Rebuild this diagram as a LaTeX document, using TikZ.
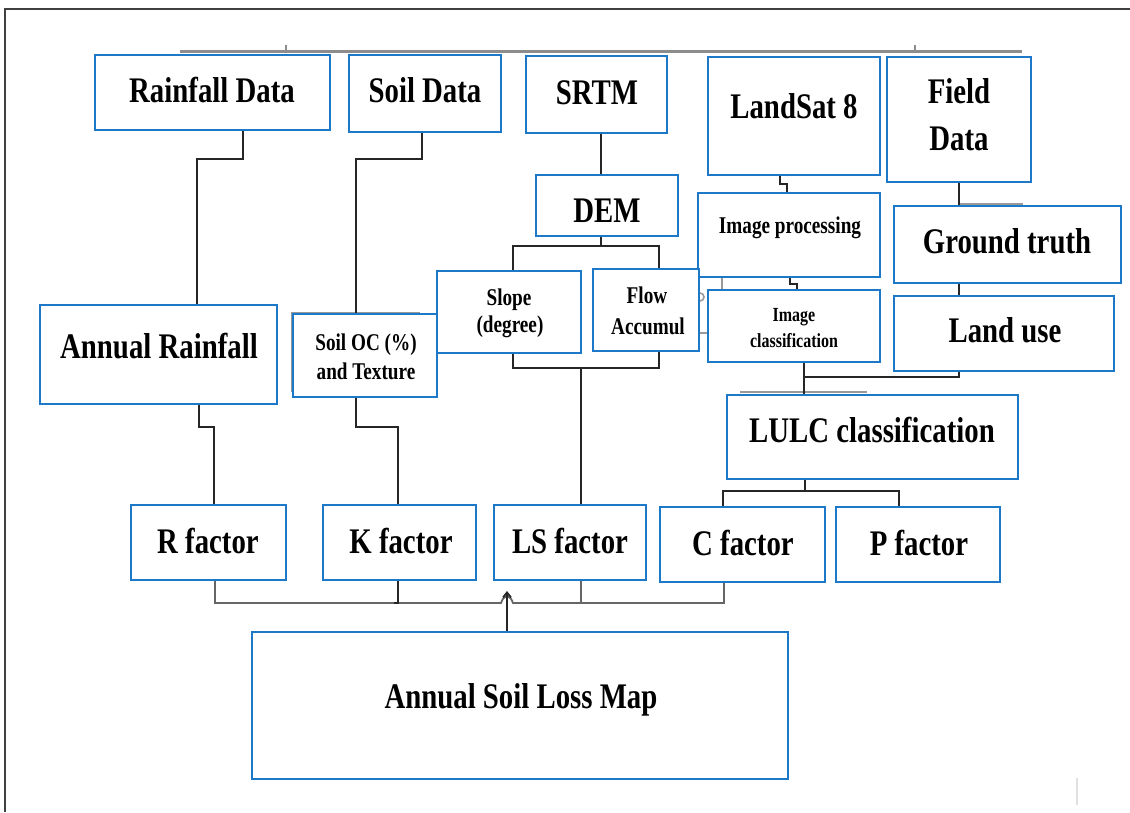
\documentclass[tikz,border=0pt]{standalone}
\usepackage{fontspec}
\setmainfont{Liberation Serif}[FakeStretch=0.8]
\usetikzlibrary{arrows.meta}
\definecolor{boxblue}{RGB}{30,120,200}
\begin{document}
\begin{tikzpicture}[x=1pt,y=-1pt,
  box/.style={draw=boxblue, line width=2.4pt, fill=white, inner sep=0pt},
  conn/.style={line width=1.8pt, black!85},
  bus/.style={line width=1.8pt, black!60},
  ghost/.style={line width=1.6pt, black!40},
  big/.style={font=\bfseries\fontsize{36}{40}\selectfont, inner sep=0pt, anchor=base},
  mid/.style={font=\bfseries\fontsize{24}{28}\selectfont, inner sep=0pt, anchor=base},
  sml/.style={font=\bfseries\fontsize{20}{24}\selectfont, inner sep=0pt, anchor=base}]
\useasboundingbox (0,0) rectangle (1130,812);

% page frame
\draw[line width=2pt, black!75] (5,812) -- (5,9) -- (1130,9);
\draw[line width=1.5pt, black!12] (1077,778) -- (1077,805);

% faint guide lines left over from the layout
\draw[line width=3pt, black!45] (180,51) -- (1022,51);
\draw[line width=1.2pt, black!45] (286,51) -- (286,45) (915,51) -- (915,45);
\draw[ghost] (292,392) -- (292,313) -- (420,313);
\draw[ghost] (740,392) -- (867,392);
\draw[ghost] (958,204) -- (1023,204);
\draw[ghost] (722,277) -- (722,290);
\draw[ghost] (699,333) -- (708,333);
\draw[ghost] (700,301) arc[start angle=90, end angle=-90, radius=4];

% boxes
\node[box, minimum width=235pt, minimum height=75pt]  (rd)   at (212.5,92.5) {};
\node[box, minimum width=152pt, minimum height=77pt]  (sd)   at (425,93.5) {};
\node[box, minimum width=141pt, minimum height=77pt]  (srtm) at (596.5,94.5) {};
\node[box, minimum width=172pt, minimum height=118pt] (ls8)  at (794,116) {};
\node[box, minimum width=144pt, minimum height=125pt] (fd)   at (959,119.5) {};
\node[box, minimum width=142pt, minimum height=61pt]  (dem)  at (607,205.5) {};
\node[box, minimum width=182pt, minimum height=84pt]  (ip)   at (789,235) {};
\node[box, minimum width=227pt, minimum height=77pt]  (gt)   at (1007.5,244.5) {};
\node[box, minimum width=144pt, minimum height=82pt]  (slope) at (509,312) {};
\node[box, minimum width=106pt, minimum height=82pt]  (flow) at (646,310) {};
\node[box, minimum width=172pt, minimum height=72pt]  (ic)   at (794,326) {};
\node[box, minimum width=220pt, minimum height=75pt]  (lu)   at (1004,333.5) {};
\node[box, minimum width=237pt, minimum height=99pt]  (arf)  at (158.5,354.5) {};
\node[box, minimum width=144pt, minimum height=83pt]  (soc)  at (365,355.5) {};
\node[box, minimum width=291pt, minimum height=84pt]  (lulc) at (872.5,437) {};
\node[box, minimum width=155pt, minimum height=75pt]  (rf)   at (208.5,542.5) {};
\node[box, minimum width=153pt, minimum height=75pt]  (kf)   at (399.5,542.5) {};
\node[box, minimum width=152pt, minimum height=75pt]  (lsf)  at (570,542.5) {};
\node[box, minimum width=165pt, minimum height=75pt]  (cf)   at (742.5,544.5) {};
\node[box, minimum width=164pt, minimum height=75pt]  (pf)   at (918,544.5) {};
\node[box, minimum width=536pt, minimum height=147pt] (asl)  at (520,705.5) {};

% labels
\node[big] (rd-t)   at (212,102) {Rainfall Data};
\node[big] (sd-t)   at (425,102) {Soil Data};
\node[big] (srtm-t) at (597,104) {SRTM};
\node[big] (ls8-t)  at (794,118) {LandSat 8};
\node[big] (fd-t1)  at (959,103) {Field};
\node[big] (fd-t2)  at (959,150) {Data};
\node[big] (dem-t)  at (607,222) {DEM};
\node[mid] (ip-t)   at (790,233) {Image processing};
\node[big] (gt-t)   at (1007,253) {Ground truth};
\node[mid] (slope-t1) at (509,305) {Slope};
\node[mid] (slope-t2) at (510,332) {(degree)};
\node[mid] (flow-t1) at (647,303) {Flow};
\node[mid] (flow-t2) at (648,334) {Accumul};
\node[sml] (ic-t1)  at (794,321) {Image};
\node[sml] (ic-t2)  at (794,347) {classification};
\node[big] (lu-t)   at (1005,342) {Land use};
\node[big] (arf-t)  at (159,358) {Annual Rainfall};
\node[mid] (soc-t1) at (366,350) {Soil OC (\%)};
\node[mid] (soc-t2) at (366,379) {and Texture};
\node[big] (lulc-t) at (872,442) {LULC classification};
\node[big] (rf-t)   at (208,553) {R factor};
\node[big] (kf-t)   at (401,553) {K factor};
\node[big] (lsf-t)  at (570,553) {LS factor};
\node[big] (cf-t)   at (743,555) {C factor};
\node[big] (pf-t)   at (919,555) {P factor};
\node[big] (asl-t)  at (521,708) {Annual Soil Loss Map};

% connectors
\draw[conn] (rd.south -| 243,0) -- (243,159) -| (arf.north -| 197,0);
\draw[conn] (sd.south -| 422,0) -- (422,159) -| (soc.north -| 356,0);
\draw[conn] (srtm.south -| 601,0) -- (dem.north -| 601,0);
\draw[conn] (dem.south -| 601,0) -- (601,246);
\draw[conn] (slope.north -| 513,0) -- (513,246) -- (659,246) -- (flow.north -| 659,0);
\draw[conn] (slope.south -| 513,0) -- (513,368) -- (659,368) -- (flow.south -| 659,0);
\draw[conn] (581,368) -- (lsf.north -| 581,0);
\draw[conn, line width=1.4pt] (ls8.south -| 780,0) -- (780,184) -- (787,184) -- (ip.north -| 787,0);
\draw[conn, line width=1.4pt] (ip.south -| 790,0) -- (790,284) -- (797,284) -- (ic.north -| 797,0);
\draw[conn] (fd.south -| 959,0) -- (gt.north -| 959,0);
\draw[conn] (gt.south -| 959,0) -- (lu.north -| 959,0);
\draw[conn] (ic.south -| 804,0) -- (lulc.north -| 804,0);
\draw[conn] (lu.south -| 959,0) -- (959,377) -- (804,377);
\draw[conn] (lulc.south -| 805,0) -- (805,491);
\draw[conn] (cf.north -| 723,0) -- (723,491) -- (899,491) -- (pf.north -| 899,0);
\draw[conn] (arf.south -| 199,0) -- (199,427) -- (214,427) -- (rf.north -| 214,0);
\draw[conn] (soc.south -| 356,0) -- (356,427) -- (398,427) -- (kf.north -| 398,0);

% factor bus and the output arrow
\draw[bus] (rf.south -| 215,0) -- (215,603) -- (501,603)
  .. controls (504,594) and (510,594) .. (513,603) -- (724,603) -- (cf.south -| 724,0);
\draw[conn] (kf.south -| 398,0) -- (398,603) -- (394,603);
\draw[bus] (lsf.south -| 581,0) -- (581,603);
\draw[conn, -{Straight Barb[length=5pt,width=8pt]}] (asl.north -| 507,0) -- (507,591);
\end{tikzpicture}
\end{document}
